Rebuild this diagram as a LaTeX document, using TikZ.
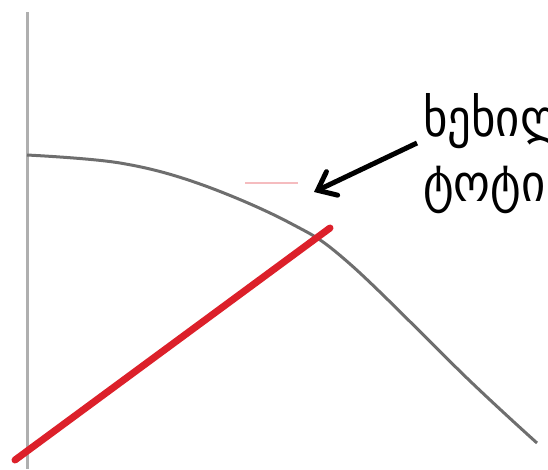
\documentclass[tikz,border=0pt]{standalone}
\usepackage{fontspec}
\usepackage{xcolor}
\usetikzlibrary{arrows.meta}
\newfontfamily\kafont{DejaVu Sans Condensed}
\definecolor{axisgray}{RGB}{175,175,175}
\definecolor{curvegray}{RGB}{110,110,110}
\definecolor{branchred}{RGB}{220,32,42}
\tikzset{
  lbl/.style={anchor=base west, inner sep=0pt, font=\kafont\fontsize{52}{52}\selectfont},
  pointer/.style={line width=5pt, -{Straight Barb[length=16pt,width=26pt,line cap=round]}}
}

\begin{document}
\begin{tikzpicture}[x=1pt,y=-1pt]
    \useasboundingbox (0,0) rectangle (548,469);
    \clip (0,0) rectangle (548,469);
    \draw[axisgray, line width=3pt] (27,12) -- (27,469);
    \draw[curvegray, line width=3pt] plot[smooth, tension=0.6] coordinates
      {(27,155) (120,163) (200,184) (290,223) (350,264) (470,381) (537,443)};
    \draw[branchred!30, line width=1.5pt] (245,183) -- (298,183);
    \coordinate (root) at (15,460); \coordinate (top) at (330,228);
    \draw[branchred, line width=7pt, line cap=round] (root) -- (top);
    \node[lbl] (l1) at (423,136) {ხეხილის};
    \node[lbl] (l2) at (423,201) {ტოტი};
    \coordinate (tail) at (417,143); \coordinate (tip) at (314,192);
    \draw[pointer] (tail) -- (tip);
  \end{tikzpicture}
\end{document}
